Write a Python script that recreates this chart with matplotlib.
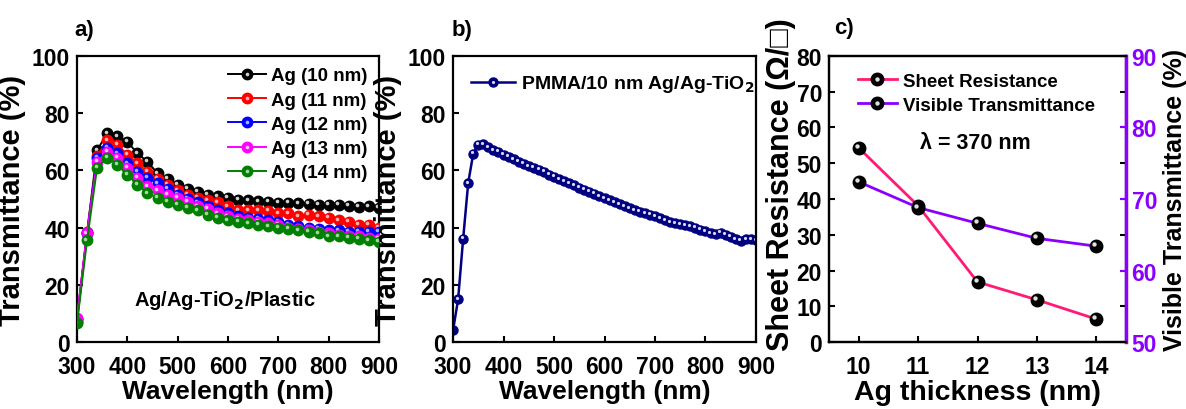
import numpy as np
import matplotlib
matplotlib.use("Agg")
import matplotlib.pyplot as plt
from matplotlib.transforms import offset_copy
from matplotlib.legend_handler import HandlerTuple

plt.rcParams['font.family'] = ['Liberation Sans', 'DejaVu Sans']
plt.rcParams['font.weight'] = 'bold'
plt.rcParams['axes.labelweight'] = 'bold'
plt.rcParams['mathtext.default'] = 'bf'

# ---- panel a data: transmittance of Ag films on plastic ----
wl_a = np.arange(300, 901, 20)
t_ag10 = [7, 38, 67, 73, 72, 70, 66, 63, 59, 57, 55, 53.5, 52.5, 51.5, 51, 50.5,
          49.8, 49.5, 49.2, 49, 48.7, 48.6, 48.5, 48.3, 48, 48, 48, 47.6, 47.3, 47.5, 47]
t_ag11 = [8, 38.5, 65, 70.5, 69, 65.5, 62.5, 59.5, 57, 55, 53, 51.5, 50.5, 49.5, 48.8, 47.5,
          46, 46, 46, 45.8, 45, 45, 44, 44.5, 44, 43.5, 42.5, 42, 41, 41, 40]
t_ag12 = [8, 38, 64.5, 68, 66, 62.5, 59.5, 57.5, 55.5, 53.5, 51.5, 50, 48.8, 47.5, 46, 45,
          44, 43.5, 43, 42.5, 42, 41, 40.5, 40, 39.5, 39, 39, 38.5, 38.5, 38.5, 38.5]
t_ag13 = [8.5, 38, 63, 66.5, 64.5, 61, 57.5, 54.5, 53, 51.5, 50.5, 49, 47.5, 46.5, 45, 44,
          43, 42.5, 42, 41.5, 41, 40, 39.5, 39, 38.5, 38, 37.5, 37, 37, 36.5, 36]
t_ag14 = [6.5, 35.5, 61, 64.5, 62, 58.5, 55, 52, 50.5, 49, 48, 47, 46, 44.5, 43.5, 42.5,
          42, 41.5, 41, 40.5, 40, 39.5, 39, 38.5, 38, 37, 37, 36.5, 36, 35.5, 35]
series_a = [t_ag10, t_ag11, t_ag12, t_ag13, t_ag14]
labels_a = ['Ag (10 nm)', 'Ag (11 nm)', 'Ag (12 nm)', 'Ag (13 nm)', 'Ag (14 nm)']
colors_a = ['black', 'red', 'blue', 'magenta', 'green']
hilite_a = ['#d0d0d0', '#ffb0b0', '#b0b0ff', '#ffc0ff', '#a0d8a0']

# ---- panel b data: PMMA / 10 nm Ag / Ag-TiO2 ----
wl_b = np.arange(300, 901, 10)
t_pmma = [4.1, 14.9, 36.1, 55.6, 65.9, 69, 69.1, 68.2, 67, 66.5, 65.5, 64.8, 64, 63, 62.3,
          61.5, 61, 60.3, 59.5, 58.5, 57.8, 57, 56.2, 55.5, 54.8, 54, 53.3, 52.5, 51.8, 51,
          50.2, 49.5, 48.8, 48.2, 47.5, 46.8, 46.2, 45.6, 45, 44.5, 44, 43.3, 42.6, 42, 41.6,
          41.2, 40.8, 40.6, 40, 39.3, 38.7, 38, 37.8, 38.2, 37.5, 36.8, 36, 35.4, 36, 36, 35.5]

# ---- panel c data ----
thick = [10, 11, 12, 13, 14]
sheet_res = [54.3, 38.1, 16.8, 11.8, 6.4]
vis_trans = [72.4, 68.8, 66.6, 64.5, 63.4]

VIOLET = '#8a00ff'


def ball_plot(ax, x, y, color, face, hi, ms, lw, label=None, zorder=2):
    line, = ax.plot(x, y, '-o', color=color, mfc=face, mec=face, ms=ms, lw=lw,
                    zorder=zorder, label=label)
    tr = offset_copy(ax.transData, fig=ax.figure, x=-ms * 0.15, y=ms * 0.15, units='points')
    hl, = ax.plot(x, y, 'o', ls='none', color=hi, ms=ms * 0.35, mec='none',
                  transform=tr, zorder=zorder + 0.1)
    return line, hl


def style_axes(ax):
    for s in ax.spines.values():
        s.set_linewidth(1.6)
    ax.tick_params(direction='in', length=4.5, width=1.5, labelsize=16.5)
    ax.tick_params(axis='x', pad=9)
    ax.tick_params(axis='y', pad=5)
    for lab in ax.get_xticklabels() + ax.get_yticklabels():
        lab.set_fontweight('bold')


hmap = {tuple: HandlerTuple(ndivide=1)}
fig = plt.figure(figsize=(11.86, 4.10), dpi=100)

# panel a
ax1 = fig.add_axes([0.0649, 0.1634, 0.2547, 0.6976])
handles = []
for i, (ys, c, h, lab) in enumerate(zip(series_a, colors_a, hilite_a, labels_a)):
    handles.append(ball_plot(ax1, wl_a, ys, c, c, h, 7.5, 1.4, lab, zorder=2 + i))
ax1.set_xlim(300, 900)
ax1.set_ylim(0, 100)
ax1.set_xticks(range(300, 901, 100))
ax1.set_yticks(range(0, 101, 20))
style_axes(ax1)
ax1.set_xlabel('Wavelength (nm)', fontsize=19, labelpad=1)
ax1.set_ylabel('Transmittance (%)', fontsize=21, labelpad=4)
ax1.legend(handles, labels_a, handler_map=hmap,
           loc='upper right', frameon=False, fontsize=13.5, handlelength=2.0,
           handletextpad=0.3, labelspacing=0.38, borderaxespad=0.2)
ax1.text(594, 15, 'Ag/Ag-TiO$_2$/Plastic', fontsize=14.5, fontweight='bold', ha='center', va='center')
fig.text(0.063, 0.925, 'a)', fontsize=16, fontweight='bold', va='center')

# panel b
ax2 = fig.add_axes([0.382, 0.1634, 0.2554, 0.6976])
hb = ball_plot(ax2, wl_b, t_pmma, 'navy', 'navy', '#d8d8f0', 6.5, 1.8)
ax2.set_xlim(300, 900)
ax2.set_ylim(0, 100)
ax2.set_xticks(range(300, 901, 100))
ax2.set_yticks(range(0, 101, 20))
style_axes(ax2)
ax2.set_xlabel('Wavelength (nm)', fontsize=19, labelpad=1)
ax2.set_ylabel('Transmittance (%)', fontsize=21, labelpad=4)
ax2.legend([hb], ['PMMA/10 nm Ag/Ag-TiO$_2$'], handler_map=hmap,
           loc='upper left', frameon=False, fontsize=14, handlelength=2.3,
           handletextpad=0.3, borderaxespad=0.5)
fig.text(0.381, 0.925, 'b)', fontsize=16, fontweight='bold', va='center')

# panel c
ax3 = fig.add_axes([0.699, 0.1634, 0.2504, 0.6976])
ax4 = ax3.twinx()
h1 = ball_plot(ax3, thick, sheet_res, '#ff1a75', 'black', '#e0e0e0', 9, 2, zorder=3)
h2 = ball_plot(ax4, thick, vis_trans, VIOLET, 'black', '#e0e0e0', 9, 2, zorder=3)
ax3.set_xlim(9.5, 14.5)
ax3.set_xticks(thick)
ax3.set_ylim(0, 80)
ax3.set_yticks(range(0, 81, 10))
ax4.set_ylim(50, 90)
ax4.set_yticks(range(50, 91, 10))
style_axes(ax3)
ax3.tick_params(axis='y', right=True)
for s in ax4.spines.values():
    s.set_linewidth(1.6)
ax4.spines['right'].set_color(VIOLET)
ax4.spines['right'].set_linewidth(2.5)
ax4.tick_params(direction='in', length=4.5, width=1.5, labelsize=16.5, colors=VIOLET, pad=4)
for lab in ax4.get_yticklabels():
    lab.set_fontweight('bold')
ax3.set_xlabel('Ag thickness (nm)', fontsize=20.5, labelpad=1)
ax3.set_ylabel('Sheet Resistance (\u03a9/\u25a1)', fontsize=22)
ax3.yaxis.set_label_coords(-0.11, 0.555)
ax4.set_ylabel('Visible Transmittance (%)', fontsize=18, labelpad=4)
ax3.legend([h1, h2], ['Sheet Resistance', 'Visible Transmittance'], handler_map=hmap,
           loc='upper left', frameon=False, fontsize=13.5, handlelength=2.1,
           handletextpad=0.3, labelspacing=0.35, bbox_to_anchor=(0.04, 1.0))
ax3.text(11.96, 55.7, '\u03bb = 370 nm', fontsize=15.5, fontweight='bold', ha='center', va='center')
fig.text(0.703, 0.93, 'c)', fontsize=16, fontweight='bold', va='center')

fig.savefig('out.png', dpi=100)
